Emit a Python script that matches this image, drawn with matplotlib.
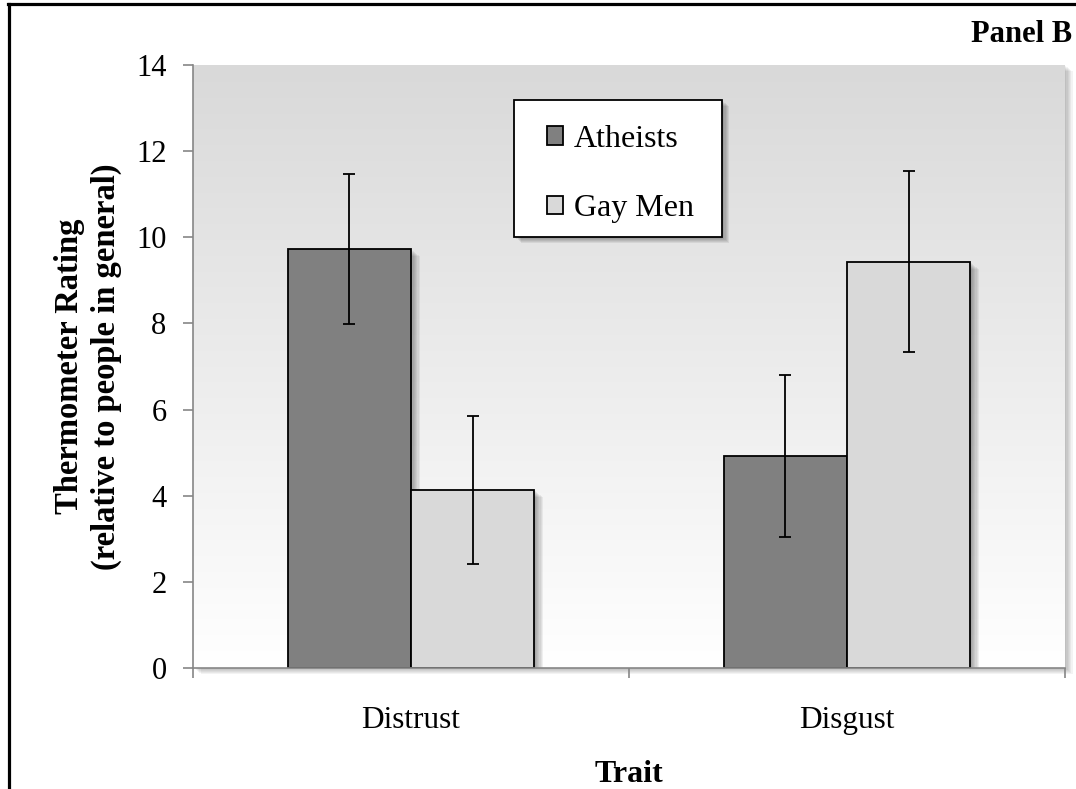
import matplotlib
matplotlib.use("Agg")
import matplotlib.pyplot as plt
import numpy as np
from matplotlib.lines import Line2D
from matplotlib.patches import Rectangle
import matplotlib.patheffects as pe
from matplotlib.colors import LinearSegmentedColormap

plt.rcParams['font.family'] = ['Liberation Serif', 'DejaVu Serif']

categories = ["Distrust", "Disgust"]
series_names = ["Atheists", "Gay Men"]
atheists = [9.73, 4.92]
gay_men = [4.13, 9.43]
atheists_err = [1.75, 1.89]
gay_men_err = [1.72, 2.10]
yticks = [0, 2, 4, 6, 8, 10, 12, 14]

fig = plt.figure(figsize=(10.76, 7.89), dpi=100)
ax = fig.add_axes([193/1076, 121/789, 872/1076, 603/789])


def soft_shadow(n=6, alpha=0.07):
    effs = []
    for i in range(n, 0, -1):
        effs.append(pe.SimplePatchShadow(offset=(i * 0.9, -i * 0.7),
                                         shadow_rgbFace="0.2", alpha=alpha))
    effs.append(pe.Normal())
    return effs


ax.patch.set_path_effects(soft_shadow(6, 0.06))

# gradient background
grad = np.linspace(0, 1, 256).reshape(-1, 1)
cmap = LinearSegmentedColormap.from_list("g", ["#ffffff", "#d9d9d9"])
ax.imshow(grad, extent=[-0.5, 1.5, 0, 14], origin="lower", aspect="auto",
          cmap=cmap, zorder=0, interpolation="bicubic")

x = np.arange(len(categories))
w = 0.283
b1 = ax.bar(x - w/2, atheists, w, color="#808080", edgecolor="black", linewidth=1.3,
            zorder=2, label=series_names[0])
b2 = ax.bar(x + w/2, gay_men, w, color="#d9d9d9", edgecolor="black", linewidth=1.3,
            zorder=2, label=series_names[1])
for b in list(b1) + list(b2):
    b.set_path_effects(soft_shadow(7, 0.07))
ax.errorbar(x - w/2, atheists, yerr=atheists_err, fmt="none", ecolor="black",
            elinewidth=1.3, capsize=4.5, capthick=1.3, zorder=3)
ax.errorbar(x + w/2, gay_men, yerr=gay_men_err, fmt="none", ecolor="black",
            elinewidth=1.3, capsize=4.5, capthick=1.3, zorder=3)

ax.set_xlim(-0.5, 1.5)
ax.set_ylim(0, 14)
ax.set_yticks(yticks)
ax.set_yticklabels([str(t) for t in yticks], fontsize=22)
ax.set_xticks([-0.5, 0.5, 1.5])
ax.set_xticklabels([])
ax.set_xticks(x, minor=True)
ax.set_xticklabels(categories, minor=True, fontsize=22.5)
ax.tick_params(axis="x", which="minor", length=0, pad=27.5)
ax.tick_params(axis="x", which="major", length=7, color="#868686", width=1.2)
ax.tick_params(axis="y", length=7, color="#868686", width=1.2, pad=12)
for s in ["top", "right"]:
    ax.spines[s].set_visible(False)
for s in ["left", "bottom"]:
    ax.spines[s].set_color("#868686")
    ax.spines[s].set_linewidth(1.2)

ax.set_ylabel("Thermometer Rating\n(relative to people in general)", fontsize=23.5,
              fontweight="bold", labelpad=10, linespacing=1.27)
ax.set_xlabel("Trait", fontsize=23, fontweight="bold", labelpad=18)

# legend box (frame drawn separately for exact size) + legend entries
box = Rectangle((0.368, 0.7148), 0.2385, 0.2272, transform=ax.transAxes,
                facecolor="white", edgecolor="black", linewidth=1.3, zorder=4)
box.set_path_effects(soft_shadow(6, 0.09))
ax.add_patch(box)
leg = ax.legend(loc="center left", bbox_to_anchor=(0.406, 0.819), fontsize=23,
                frameon=False, borderpad=0, labelspacing=1.27,
                handlelength=0.5, handleheight=0.5, handletextpad=0.34, borderaxespad=0)
leg.set_zorder(5)
for h in leg.legend_handles:
    h.set_path_effects([])
    h.set_linewidth(1.3)

fig.text(1072/1076, 1 - 35/789, "Panel B", ha="right", va="center",
         fontsize=22, fontweight="bold")

fig.add_artist(Line2D([8/1076, 1], [1 - 4/789, 1 - 4/789], color="black", lw=2.3,
                      transform=fig.transFigure))
fig.add_artist(Line2D([9/1076, 9/1076], [0, 1 - 4/789], color="black", lw=2.3,
                      transform=fig.transFigure))

fig.savefig("out.png", dpi=100)
